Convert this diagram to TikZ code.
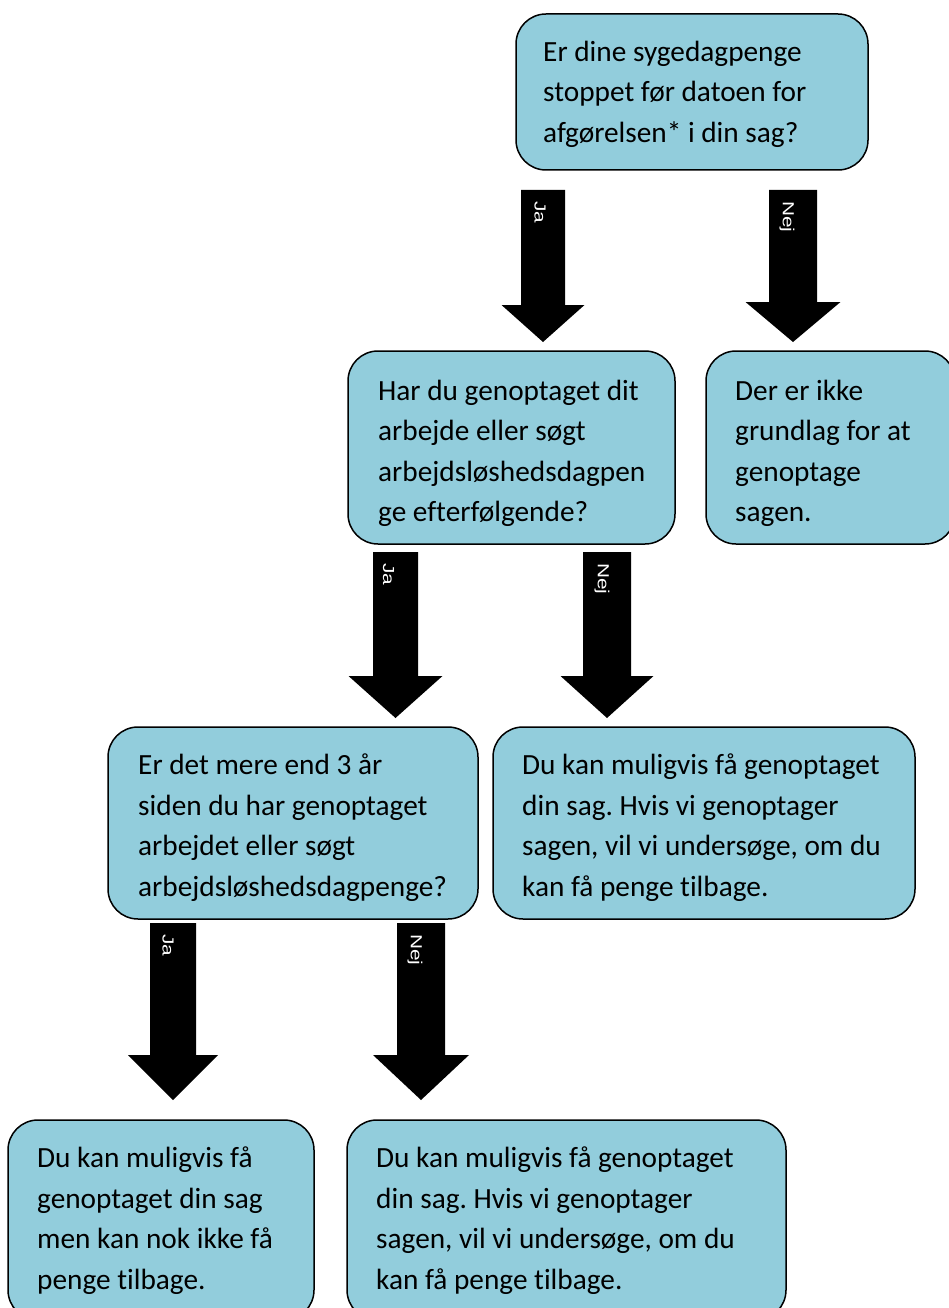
\documentclass[tikz,border=0pt]{standalone}
\usepackage{fontspec}
\setmainfont{Carlito}[Ligatures=CommonOff]
\newfontfamily\lblfont{Liberation Sans}
\frenchspacing
\definecolor{boxfill}{HTML}{92CDDC}
\tikzset{
  box/.style={draw=black, line width=1.5pt, fill=boxfill, rounded corners=30pt, inner sep=0pt},
  txt/.style={anchor=north west, inner sep=0pt, align=left, font=\frenchspacing\fontsize{29.3}{40.5}\selectfont, execute at begin node=\strut},
  lbl/.style={rotate=-90, anchor=west, inner sep=0pt, text=white, font=\lblfont\fontsize{16}{18}\selectfont},
  blk/.style={fill=black}
}
% #1 cx, #2 top, #3 shoulder, #4 tip, #5 half shaft, #6 half head, #7 label, #8 name, #9 label dx
\newcommand\blockarrow[9]{%
  \coordinate (#8s) at (#1,#2);
  \coordinate (#8t) at (#1,#4);
  \fill[blk] ({#1-#5},#2) -- ({#1+#5},#2) -- ({#1+#5},#3) -- ({#1+#6},#3) -- (#8t) -- ({#1-#6},#3) -- ({#1-#5},#3) -- cycle;
  \node[lbl] (#8l) at ({#1+#9},{#2+11}) {\scalebox{1.3}[1]{#7}};
}
\begin{document}
\begin{tikzpicture}[x=1pt,y=-1pt]
\useasboundingbox (0,0) rectangle (949,1308);
\clip (0,0) rectangle (949,1308);

% boxes
\node[box, minimum width=352pt, minimum height=156pt] (q1) at (692,92) {};
\node[box, minimum width=327pt, minimum height=193pt] (q2) at (511.5,447.5) {};
\node[box, minimum width=249pt, minimum height=193pt] (n1) at (830.5,447.5) {};
\node[box, minimum width=370pt, minimum height=192pt] (q3) at (293,823) {};
\node[box, minimum width=422pt, minimum height=192pt] (r1) at (704,823) {};
\node[box, minimum width=306pt, minimum height=200pt] (r2) at (161,1220) {};
\node[box, minimum width=439pt, minimum height=200pt] (r3) at (566.5,1220) {};

% texts (clipped at the bottom like the original)
\begin{scope}
\clip (516,14) rectangle (868,153);
\node[txt] (t1) at (543,40.65) {Er dine sygedagpenge\\stoppet før datoen for\\afgørelsen* i din sag?};
\end{scope}
\begin{scope}
\clip (348,351) rectangle (675,527);
\node[txt] (t2) at (378,379.65) {Har du genoptaget dit\\arbejde eller søgt\\arbejdsløshedsdagpen\\ge efterfølgende?};
\end{scope}
\begin{scope}
\clip (706,351) rectangle (955,527);
\node[txt] (t3) at (735,379.65) {Der er ikke\\grundlag for at\\genoptage\\sagen.};
\end{scope}
\begin{scope}
\clip (108,727) rectangle (478,901);
\node[txt] (t4) at (138,753.65) {Er det mere end 3 år\\siden du har genoptaget\\arbejdet eller søgt\\arbejdsløshedsdagpenge?};
\end{scope}
\begin{scope}
\clip (493,727) rectangle (915,901);
\node[txt] (t5) at (522,753.65) {Du kan muligvis få genoptaget\\din sag. Hvis vi genoptager\\sagen, vil vi undersøge, om du\\kan få penge tilbage.};
\end{scope}
\begin{scope}
\clip (8,1120) rectangle (314,1293);
\node[txt] (t6) at (37,1146.65) {Du kan muligvis få\\genoptaget din sag\\men kan nok ikke få\\penge tilbage.};
\end{scope}
\begin{scope}
\clip (347,1120) rectangle (786,1293);
\node[txt] (t7) at (376,1146.65) {Du kan muligvis få genoptaget\\din sag. Hvis vi genoptager\\sagen, vil vi undersøge, om du\\kan få penge tilbage.};
\end{scope}

% block arrows
\blockarrow{543}{190}{305}{342}{22}{41.5}{Ja}{a1}{-3}
\blockarrow{793}{190}{302}{342}{24}{47.5}{Nej}{a2}{-6}
\blockarrow{395.5}{552}{676}{718}{22.5}{47}{Ja}{a3}{-7}
\blockarrow{607}{552}{676}{718}{24}{46.5}{Nej}{a4}{-5}
\blockarrow{173}{923}{1055}{1100}{23}{45}{Ja}{a5}{-5}
\blockarrow{421}{923}{1055}{1100}{24}{48}{Nej}{a6}{-6}
\end{tikzpicture}
\end{document}
